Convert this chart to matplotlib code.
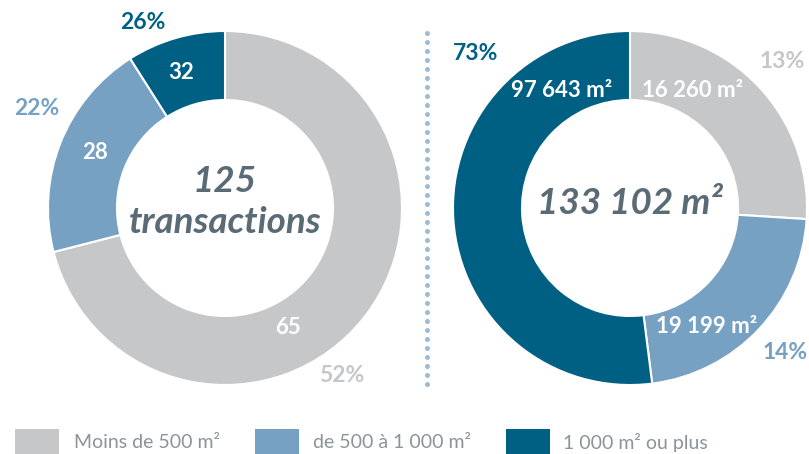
import numpy as np
import matplotlib.pyplot as plt

# ── Data ──────────────────────────────────────────────────────────────────
categories = ["Moins de 500 m²", "de 500 à 1 000 m²", "1 000 m² ou plus"]
colors = ["#c6c7c9", "#77a1c3", "#006084"]

# left donut: number of transactions
tx_labels = ["65", "28", "32"]
tx_pct = ["52%", "22%", "26%"]
tx_drawn = [71, 20, 9]          # wedge shares as drawn in the picture
tx_total = "125\ntransactions"

# right donut: surfaces
surf_labels = ["16 260 m²", "19 199 m²", "97 643 m²"]
surf_pct = ["13%", "14%", "73%"]
surf_drawn = [26, 22, 52]       # wedge shares as drawn in the picture
surf_total = "133 102 m²"

# ── Layout (pixel space, y measured from the bottom) ─────────────────────
W, H = 809, 454
R_OUT, RING = 177, 69
centers = [(225, H - 208), (630, H - 208)]
# label placement (angle in degrees, radius in px)
tx_in_pos = [(-62, 135), (157, 141), (108, 142)]
tx_out_pos = [(-55, 204), (152, 213), (114, 203)]
surf_in_pos = [(62, 133), (-57, 141), (120, 136)]
surf_out_pos = [(44, 211), (-43, 212), (135, 218)]

FONT = "Lato"
CENTER_COLOR = "#5a6b76"
LEGEND_TEXT = "#8a949a"

fig = plt.figure(figsize=(W / 100, H / 100), dpi=100)
ax = fig.add_axes([0, 0, 1, 1])


def polar(c, ang, r):
    a = np.deg2rad(ang)
    return c[0] + r * np.cos(a), c[1] + r * np.sin(a)


def donut(c, shares, in_labels, in_pos, pct, out_pos, total, total_size, total_dy):
    ax.pie(shares, colors=colors, startangle=90, counterclock=False,
           center=c, radius=R_OUT,
           wedgeprops=dict(width=RING, edgecolor="white", linewidth=1.5))
    for lab, (a, r) in zip(in_labels, in_pos):
        x, y = polar(c, a, r)
        ax.text(x, y, lab, ha="center", va="center", color="white",
                fontsize=16, fontweight="bold", family=FONT)
    for lab, col, (a, r) in zip(pct, colors, out_pos):
        x, y = polar(c, a, r)
        ax.text(x, y, lab, ha="center", va="center", color=col,
                fontsize=16.5, fontweight="bold", family=FONT)
    ax.text(c[0], c[1] + total_dy, total, ha="center", va="center",
            color=CENTER_COLOR, fontsize=total_size, fontweight="bold",
            fontstyle="italic", family=FONT, linespacing=1.32)


donut(centers[0], tx_drawn, tx_labels, tx_in_pos, tx_pct, tx_out_pos,
      tx_total, 26.5, 6)
donut(centers[1], surf_drawn, surf_labels, surf_in_pos, surf_pct, surf_out_pos,
      surf_total, 26.5, 4)

# dotted separator
ys = np.arange(H - 384, H - 30, 9)
ax.plot(np.full_like(ys, 427), ys, linestyle="none", marker="o",
        markersize=3.6, color="#9dbbd4", markeredgewidth=0)

# legend
box_x = [15, 255, 506]
text_x = [74, 313, 563]
for cat, col, bx, tx in zip(categories, colors, box_x, text_x):
    ax.add_patch(plt.Rectangle((bx, -10), 44, H - 429 + 10, color=col, lw=0))
    ax.text(tx, H - 443, cat, ha="left", va="center", color=LEGEND_TEXT,
            fontsize=14, fontweight="normal", family=FONT)

ax.set_xlim(0, W)
ax.set_ylim(0, H)
ax.set_aspect("equal")
ax.axis("off")

fig.savefig("out.png", dpi=100)
